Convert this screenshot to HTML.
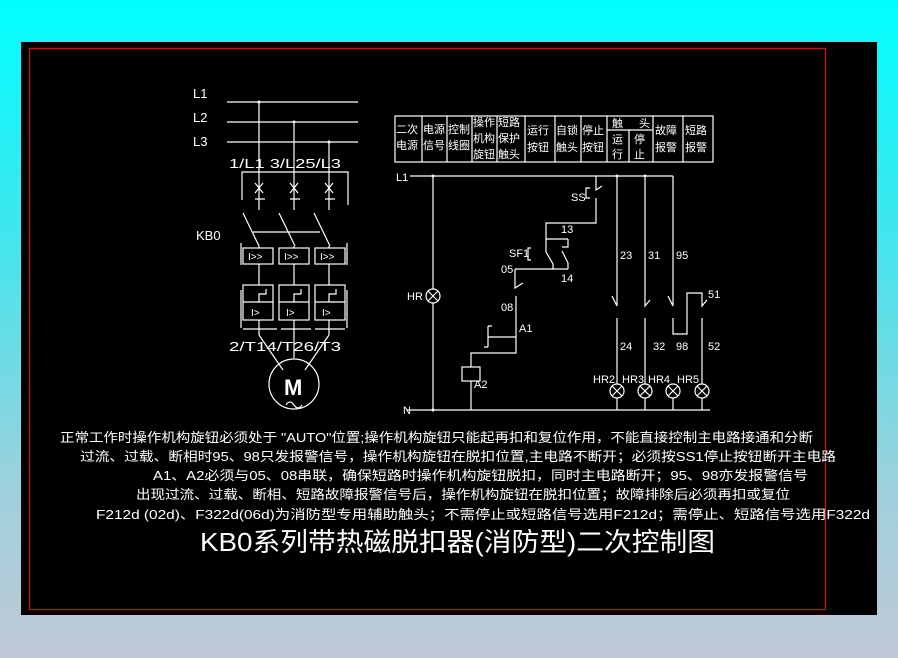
<!DOCTYPE html>
<html><head><meta charset="utf-8"><style>
html,body{margin:0;padding:0;width:898px;height:658px;overflow:hidden;background:linear-gradient(180deg,#00ffff 0%,#3fe6ee 35%,#9fd0dc 75%,#c0c8d6 100%);}
svg{position:absolute;left:0;top:0}
text{font-family:"Liberation Sans","WenQuanYi Zen Hei","Noto Sans CJK SC",sans-serif;fill:#fff}
</style></head><body>
<svg width="898" height="658" viewBox="0 0 898 658">
<rect x="21" y="42" width="856" height="573" fill="#000"/>
<rect x="29.5" y="48.5" width="796" height="561" fill="none" stroke="#c01818" stroke-width="1.3"/>
<g stroke="#fff" stroke-width="1.2" fill="none">
<!-- power circuit -->
<line x1="227" y1="102" x2="358" y2="102"/><line x1="227" y1="122" x2="358" y2="122"/><line x1="227" y1="142" x2="358" y2="142"/>
<line x1="259" y1="102" x2="259" y2="210"/><line x1="294" y1="122" x2="294" y2="210"/><line x1="329" y1="142" x2="329" y2="210"/>
<path d="M242 200V172H348V205"/>
<path d="M255 183l8 10M263 183l-8 10M255 199h10M290 183l8 10M298 183l-8 10M290 199h10M325 183l8 10M333 183l-8 10M325 199h10"/>
<path d="M243 213l16 33M279 213l16 33M314 213l16 33M253 232H320"/>
<path d="M259 246v2M294 246v2M329 246v2"/>
<path d="M241 243v22M347 243v22"/>
<rect x="243" y="248" width="30" height="16"/><rect x="279" y="248" width="30" height="16"/><rect x="315" y="248" width="30" height="16"/>
<path d="M259 264v21M294 264v21M329 264v21"/>
<rect x="243" y="285" width="30" height="35"/><rect x="279" y="285" width="30" height="35"/><rect x="315" y="285" width="30" height="35"/>
<path d="M243 302h30M279 302h30M315 302h30"/>
<path d="M259 302v-8h7v-5M294 302v-8h7v-5M329 302v-8h7v-5"/>
<path d="M241 290v38M347 290v38M243 329H277M281 329H311M315 329H345"/>
<path d="M259 320v15M294 320v38M329 320v15"/>
<path d="M259 335l24 35M329 335l-24 35"/>
<circle cx="294" cy="384" r="25"/>
<path d="M286 405q4-6 8 0t8 0"/>
<!-- control circuit -->
<path d="M410 176H673M407 410H710"/>
<path d="M433 176V289M433 303V410"/>
<circle cx="433" cy="296" r="7"/><path d="M428 291l10 10M438 291l-10 10"/>
<path d="M596 176V190l6-4M596 198V223H546V239H568"/>
<path d="M590 188h-4v10h4" />
<path d="M546 239V252l7 12v5M568 239v8l-6 0M562 251l6 12v6M515 269H568"/>
<path d="M531 248h-3v12h3"/>
<path d="M515 269V288l8-5M516 296V353H471V367M516 337H488M488 326v21M488 326h4M488 347h-4"/>
<rect x="462" y="367" width="18" height="14"/>
<path d="M471 381V410"/>
<path d="M617 176V306l-5-10M617 318V384M645 176V306l5-6M645 318V384M673 176V306l-5-10M673 318V334H687V293H702V306l5-6M702 318V384"/>
<path d="M617 398V410M645 398V410M673 398V410M702 398V410"/>
<circle cx="617" cy="391" r="7"/><circle cx="645" cy="391" r="7"/><circle cx="673" cy="391" r="7"/><circle cx="702" cy="391" r="7"/>
<path d="M612 386l10 10M622 386l-10 10M640 386l10 10M650 386l-10 10M668 386l10 10M678 386l-10 10M697 386l10 10M707 386l-10 10"/>
<!-- table -->
<rect x="395" y="116" width="318" height="46"/>
<path d="M422 116v46M447 116v46M472 116v46M497 116v46M525 116v46M555 116v46M581 116v46M607 116v46M653 116v46M683 116v46M607 130h46M629 130v32"/>
</g>
<g fill="#fff">
<circle cx="259" cy="102" r="1.5"/><circle cx="294" cy="122" r="1.5"/><circle cx="329" cy="142" r="1.5"/>
<circle cx="433" cy="176" r="1.5"/><circle cx="617" cy="176" r="1.5"/><circle cx="645" cy="176" r="1.5"/><circle cx="433" cy="410" r="1.5"/>
</g>
<g font-size="13">
<text x="193" y="98">L1</text><text x="193" y="122">L2</text><text x="193" y="146">L3</text>
<text x="229" y="168" textLength="112" lengthAdjust="spacingAndGlyphs">1/L1 3/L25/L3</text>
<text x="196" y="240">KB0</text>
<text x="229" y="351" textLength="112" lengthAdjust="spacingAndGlyphs">2/T14/T26/T3</text>
</g>
<text x="284" y="395" font-size="22" font-weight="bold">M</text>
<g font-size="10">
<text x="248" y="260">I&gt;&gt;</text><text x="284" y="260">I&gt;&gt;</text><text x="320" y="260">I&gt;&gt;</text>
<text x="251" y="316">I&gt;</text><text x="286" y="316">I&gt;</text><text x="322" y="316">I&gt;</text>
</g>
<g font-size="11">
<text x="396" y="181">L1</text><text x="403" y="414">N</text>
<text x="407" y="300">HR</text>
<text x="571" y="201">SS</text><text x="509" y="257">SF1</text>
<text x="561" y="233">13</text><text x="561" y="282">14</text><text x="501" y="273">05</text><text x="501" y="311">08</text>
<text x="519" y="332">A1</text><text x="474" y="388">A2</text>
<text x="620" y="259">23</text><text x="648" y="259">31</text><text x="676" y="259">95</text>
<text x="620" y="350">24</text><text x="653" y="350">32</text><text x="676" y="350">98</text><text x="708" y="350">52</text><text x="708" y="298">51</text>
<text x="593" y="383">HR2</text><text x="622" y="383">HR3</text><text x="648" y="383">HR4</text><text x="677" y="383">HR5</text>
</g>
<g font-size="11">
<text x="396" y="133">二次</text><text x="396" y="149">电源</text>
<text x="423" y="133">电源</text><text x="423" y="149">信号</text>
<text x="448" y="133">控制</text><text x="448" y="149">线圈</text>
<text x="473" y="126">操作</text><text x="473" y="142">机构</text><text x="473" y="158">旋钮</text>
<text x="498" y="126">短路</text><text x="498" y="142">保护</text><text x="498" y="158">触头</text>
<text x="527" y="134">运行</text><text x="527" y="151">按钮</text>
<text x="556" y="134">自锁</text><text x="556" y="151">触头</text>
<text x="582" y="134">停止</text><text x="582" y="151">按钮</text>
<text x="612" y="127" textLength="38">触 头</text>
<text x="612" y="143">运</text><text x="612" y="158">行</text><text x="634" y="143">停</text><text x="634" y="158">止</text>
<text x="655" y="134">故障</text><text x="655" y="151">报警</text>
<text x="685" y="134">短路</text><text x="685" y="151">报警</text>
</g>
<g font-size="13">
<text x="60" y="442" textLength="753" lengthAdjust="spacingAndGlyphs">正常工作时操作机构旋钮必须处于 "AUTO"位置;操作机构旋钮只能起再扣和复位作用，不能直接控制主电路接通和分断</text>
<text x="80" y="461" textLength="756" lengthAdjust="spacingAndGlyphs">过流、过载、断相时95、98只发报警信号，操作机构旋钮在脱扣位置,主电路不断开；必须按SS1停止按钮断开主电路</text>
<text x="153" y="480" textLength="655" lengthAdjust="spacingAndGlyphs">A1、A2必须与05、08串联，确保短路时操作机构旋钮脱扣，同时主电路断开；95、98亦发报警信号</text>
<text x="136" y="499" textLength="654" lengthAdjust="spacingAndGlyphs">出现过流、过载、断相、短路故障报警信号后，操作机构旋钮在脱扣位置；故障排除后必须再扣或复位</text>
<text x="96" y="519" textLength="774" lengthAdjust="spacingAndGlyphs">F212d (02d)、F322d(06d)为消防型专用辅助触头；不需停止或短路信号选用F212d；需停止、短路信号选用F322d</text>
</g>
<text x="200" y="551" font-size="26" textLength="515" lengthAdjust="spacingAndGlyphs">KB0系列带热磁脱扣器(消防型)二次控制图</text>
</svg>
</body></html>
